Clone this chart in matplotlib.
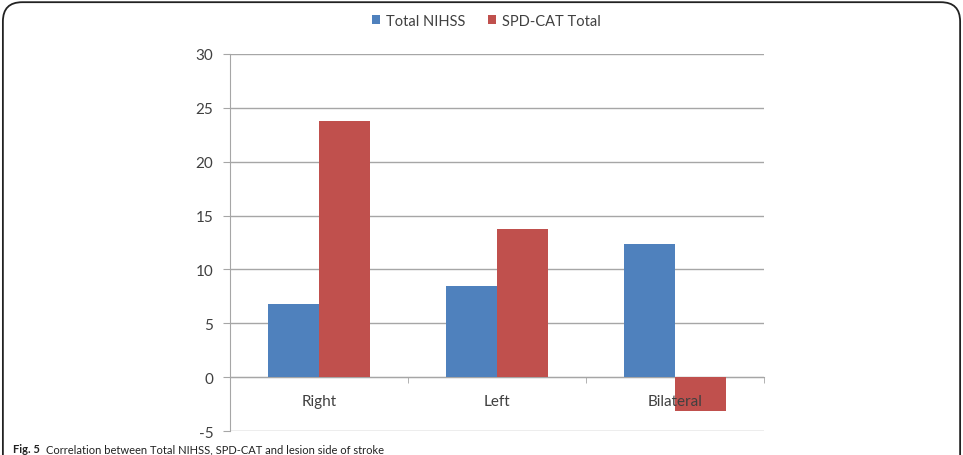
import numpy as np
import matplotlib
matplotlib.use("Agg")
import matplotlib.pyplot as plt
from matplotlib.patches import FancyBboxPatch

# data
categories = ["Right", "Left", "Bilateral"]
nihss = [6.8, 8.5, 12.4]
spd_cat = [23.8, 13.8, -3.1]
yticks = [-5, 0, 5, 10, 15, 20, 25, 30]

plt.rcParams['font.family'] = ['Lato', 'DejaVu Sans']
plt.rcParams['axes.unicode_minus'] = False

fig = plt.figure(figsize=(9.63, 4.56), dpi=100)
ax = fig.add_axes([0.2388, 0.0526, 0.5545, 0.8268])

x = np.arange(len(categories))
w = 0.287
ax.bar(x - w / 2, nihss, w, color="#4F81BD", label="Total NIHSS", zorder=2)
ax.bar(x + w / 2, spd_cat, w, color="#C0504D", label="SPD-CAT Total", zorder=2)

ax.set_xlim(-0.5, len(categories) - 0.5)
ax.set_ylim(-5, 30)
ax.set_yticks(yticks)
ax.yaxis.grid(True, color="#A6A6A6", linewidth=1)
# gridlines behind the bars, category labels on top of them
ax.yaxis.set_zorder(0.5)
ax.xaxis.set_zorder(5)

# x axis sits at zero like in excel
for s in ["top", "right"]:
    ax.spines[s].set_visible(False)
ax.spines["bottom"].set_position(("data", 0))
ax.spines["bottom"].set_color("#A6A6A6")
ax.spines["bottom"].set_zorder(1)
ax.spines["left"].set_color("#A6A6A6")

ax.set_xticks(x)
ax.set_xticklabels(categories)
ax.tick_params(axis="x", which="major", length=0, pad=12, labelsize=11, labelcolor="#404040")
ax.set_xticks(np.arange(-0.5, len(categories)), minor=True)
ax.tick_params(axis="x", which="minor", length=4, color="#A6A6A6")
ax.tick_params(axis="y", length=5, color="#A6A6A6", labelsize=11, labelcolor="#404040", pad=7)

fig.legend(loc="center", bbox_to_anchor=(0.505, 0.952), ncol=2, frameon=False,
           fontsize=10.5, handlelength=0.6, handleheight=0.6, handletextpad=0.4,
           columnspacing=1.5, labelcolor="#404040")

# rounded frame around the whole figure
box = FancyBboxPatch((0.003, -0.2), 0.994, 1.193, boxstyle="round,pad=0,rounding_size=0.02",
                     transform=fig.transFigure, fill=False, edgecolor="#222222",
                     linewidth=1.3, mutation_aspect=963 / 456)
fig.patches.append(box)

# caption along the bottom edge
fig.text(0.014, 1 - 444 / 456, "Fig. 5", fontsize=8, fontweight="bold", va="top", color="#222222")
fig.text(0.048, 1 - 444 / 456, "Correlation between Total NIHSS, SPD-CAT and lesion side of stroke",
         fontsize=8, va="top", color="#222222")

fig.savefig("out.png", dpi=100)
